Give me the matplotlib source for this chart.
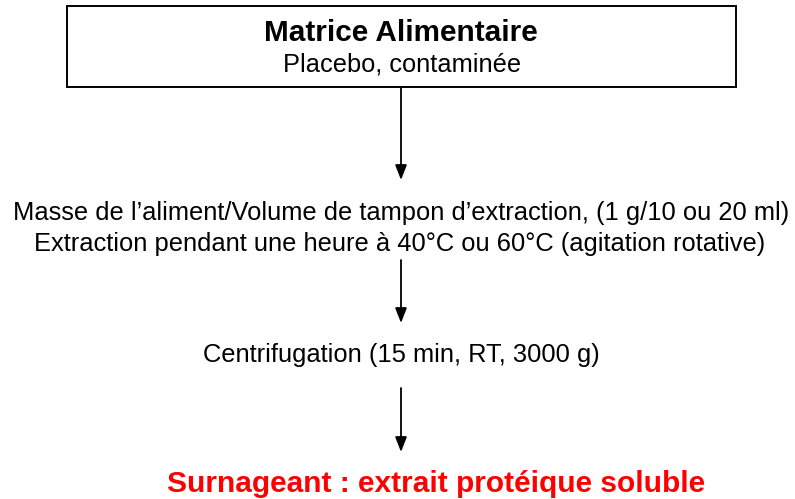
import matplotlib.pyplot as plt

plt.rcParams['font.family'] = ['Liberation Sans', 'DejaVu Sans']

# diagram content
box_title = "Matrice Alimentaire"
box_sub = "Placebo, contaminée"
step1 = ["Masse de l\u2019aliment/Volume de tampon d\u2019extraction, (1 g/10 ou 20 ml)",
         "Extraction pendant une heure à 40°C ou 60°C (agitation rotative)"]
step2 = "Centrifugation (15 min, RT, 3000 g)"
result = "Surnageant : extrait protéique soluble"

W, H = 795, 499
fig = plt.figure(figsize=(W / 100, H / 100), dpi=100)
ax = fig.add_axes([0, 0, 1, 1])
ax.set_xlim(0, W)
ax.set_ylim(H, 0)
ax.axis('off')

# top box
ax.add_patch(plt.Rectangle((67, 6), 669, 81, fill=False, ec='black', lw=1.4))
ax.text(401, 33, box_title, ha='center', va='center', fontsize=21.4, fontweight='bold')
ax.text(402, 64, box_sub, ha='center', va='center', fontsize=18.3)

ax.text(401, 213, step1[0], ha='center', va='center', fontsize=18.4)
ax.text(400, 244, step1[1], ha='center', va='center', fontsize=18.4)
ax.text(401, 355, step2, ha='center', va='center', fontsize=18.4)
ax.text(436, 484, result, ha='center', va='center', fontsize=21.5,
        fontweight='bold', color='#ff0000')

arrows = [(87, 180), (260, 323), (388, 452)]
for y0, y1 in arrows:
    ax.annotate('', xy=(401, y1), xytext=(401, y0),
                arrowprops=dict(arrowstyle='-|>,head_length=0.9,head_width=0.35',
                                color='black', lw=1.3, shrinkA=0, shrinkB=0))

fig.savefig('out.png', dpi=100)
